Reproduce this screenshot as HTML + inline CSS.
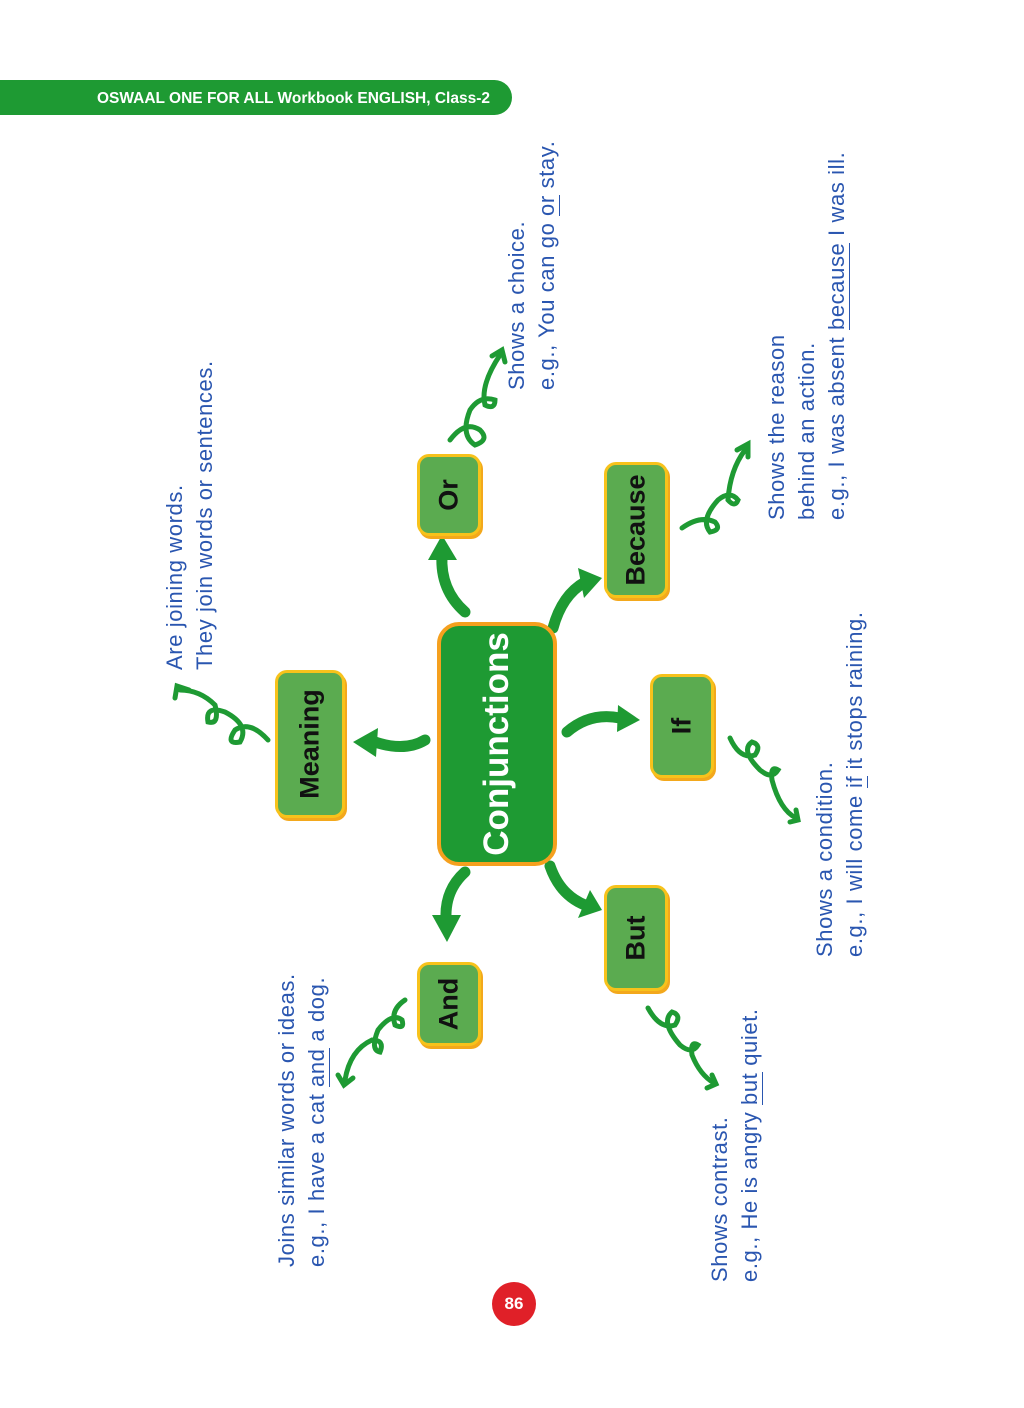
<!DOCTYPE html>
<html><head><meta charset="utf-8"><style>
body{margin:0;background:#fff;}
#p{position:relative;width:1024px;height:1408px;overflow:hidden;background:#fff;font-family:"Liberation Sans",sans-serif;}
.hdr{position:absolute;left:0;top:80px;width:512px;height:35px;background:#1e9a33;border-radius:0 18px 18px 0;color:#fff;font-weight:bold;font-size:15.5px;line-height:37px;}
.hdr span{position:absolute;left:97px;}
.v{position:absolute;writing-mode:vertical-rl;transform:rotate(180deg);color:#2a56b0;font-size:22px;line-height:30px;white-space:nowrap;letter-spacing:0.6px;}
.v u{text-decoration:none;border-left:1.5px solid #2a56b0;}
.node{position:absolute;background:#5bab50;border:3px solid #f7c21b;border-radius:12px;box-shadow:2px 3px 0 #f3a81c;}
.node div{position:absolute;left:50%;top:50%;transform:translate(-50%,-50%) rotate(-90deg);font-weight:bold;font-size:27px;color:#111;white-space:nowrap;}
.center{position:absolute;left:437px;top:622px;width:112px;height:236px;background:#1e9a33;border:4px solid #f5a01e;border-radius:22px;}
.center div{position:absolute;left:50%;top:50%;transform:translate(-50%,-50%) rotate(-90deg);font-weight:bold;font-size:35px;color:#fff;white-space:nowrap;}
.pg{position:absolute;left:492px;top:1282px;width:44px;height:44px;border-radius:50%;background:#e02028;color:#fff;font-weight:bold;font-size:17px;text-align:center;line-height:44px;}
</style></head><body><div id="p">
<div class="hdr"><span>OSWAAL ONE FOR ALL Workbook ENGLISH, Class-2</span></div>

<svg width="1024" height="1408" style="position:absolute;left:0;top:0" fill="none" stroke="#1e9a33" stroke-width="5" stroke-linecap="round">
<path d="M465 612 Q440 590 442 555" stroke-width="11"/><polygon points="428,560 442,535 457,560" fill="#1e9a33" stroke="none"/>
<path d="M553 628 Q562 595 585 582" stroke-width="11"/><polygon points="578,568 602,578 584,598" fill="#1e9a33" stroke="none"/>
<path d="M425 740 Q405 752 375 742" stroke-width="11"/><polygon points="378,728 353,742 376,757" fill="#1e9a33" stroke="none"/>
<path d="M567 732 Q590 712 620 718" stroke-width="11"/><polygon points="618,705 640,720 617,732" fill="#1e9a33" stroke="none"/>
<path d="M465 872 Q445 890 446 918" stroke-width="11"/><polygon points="432,915 447,942 461,915" fill="#1e9a33" stroke="none"/>
<path d="M550 866 Q560 895 585 905" stroke-width="11"/><polygon points="578,918 602,910 590,890" fill="#1e9a33" stroke="none"/>
<path d="M268 740 Q250 720 235 730 Q225 745 240 742 Q250 725 225 712 Q205 705 208 722 Q220 725 215 705 Q200 690 180 690"/>
<path d="M175 698 L177 686 L189 690" />
<path d="M450 440 Q465 420 480 430 Q490 440 475 445 Q460 435 470 410 Q480 395 495 400 Q495 410 485 405 Q480 385 500 355"/>
<path d="M492 356 L502 350 L505 362"/>
<path d="M682 528 Q700 515 715 522 Q722 530 710 532 Q700 520 718 500 Q730 490 738 500 Q735 508 728 500 Q730 470 745 450"/>
<path d="M737 450 L748 444 L748 457"/>
<path d="M730 738 Q740 760 755 755 Q762 745 752 742 Q740 750 760 770 Q772 780 778 770 Q770 765 772 780 Q780 810 796 818"/>
<path d="M790 822 L798 820 L796 810"/>
<path d="M648 1008 Q660 1030 675 1025 Q682 1015 672 1012 Q660 1022 680 1045 Q692 1055 698 1045 Q690 1040 692 1055 Q700 1075 714 1083"/>
<path d="M707 1088 L716 1084 L712 1075"/>
<path d="M405 1000 Q390 1010 395 1025 Q405 1030 402 1020 Q392 1012 378 1030 Q370 1050 380 1052 Q385 1040 372 1040 Q350 1050 345 1080"/>
<path d="M338 1075 L344 1085 L353 1078"/>
</svg>

<div class="center"><div>Conjunctions</div></div>
<div class="node" style="left:275px;top:670px;width:64px;height:142px"><div>Meaning</div></div>
<div class="node" style="left:417px;top:454px;width:58px;height:76px"><div>Or</div></div>
<div class="node" style="left:604px;top:462px;width:58px;height:130px"><div>Because</div></div>
<div class="node" style="left:650px;top:674px;width:58px;height:98px"><div>If</div></div>
<div class="node" style="left:604px;top:885px;width:58px;height:100px"><div>But</div></div>
<div class="node" style="left:417px;top:962px;width:58px;height:78px"><div>And</div></div>

<div class="v" style="left:160px;top:330px;width:64px;height:340px">Are joining words.<br>They join words or sentences.</div>
<div class="v" style="left:502px;top:100px;width:64px;height:290px">Shows a choice.<br>e.g., You can go <u>or</u> stay.</div>
<div class="v" style="left:762px;top:60px;width:94px;height:460px">Shows the reason<br>behind an action.<br>e.g., I was absent <u>because</u> I was ill.</div>
<div class="v" style="left:810px;top:500px;width:64px;height:457px">Shows a condition.<br>e.g., I will come <u>if</u> it stops raining.</div>
<div class="v" style="left:705px;top:950px;width:64px;height:332px">Shows contrast.<br>e.g., He is angry <u>but</u> quiet.</div>
<div class="v" style="left:272px;top:880px;width:64px;height:387px">Joins similar words or ideas.<br>e.g., I have a cat <u>and</u> a dog.</div>

<div class="pg">86</div>
</div></body></html>
